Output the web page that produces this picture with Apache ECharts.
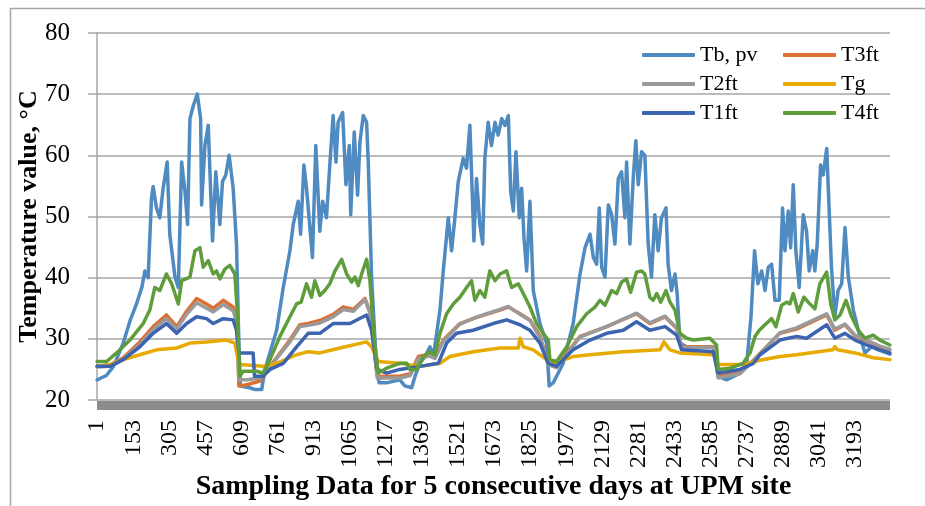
<!DOCTYPE html>
<html>
<head>
<meta charset="utf-8">
<script src="https://cdn.jsdelivr.net/npm/echarts@6/dist/echarts.min.js"></script>
<style>
  html, body { margin: 0; padding: 0; background: #fff; }
  #chart { width: 925px; height: 506px; }
</style>
</head>
<body>
<div id="chart"></div>
<script>
// sample count on the category axis (labels 1, 153, 305 ... every 152 samples)
const sampleCount = 3340;
const labelStep = 152;

// Tb, pv  (sample number -> value)
const tbX = [1, 40, 70, 111, 140, 165, 190, 202, 216, 230, 237, 251, 265, 279, 296, 307, 329, 343, 357, 371, 382, 392, 406, 423, 437, 441, 455, 469, 487, 501, 518, 529, 543, 557, 574, 588, 598, 604, 644, 666, 694, 708, 757, 785, 813, 827, 848, 858, 872, 883, 908, 922, 939, 951, 967, 981, 995, 1007, 1016, 1035, 1049, 1063, 1069, 1084, 1098, 1108, 1122, 1136, 1143, 1157, 1178, 1189, 1220, 1276, 1297, 1326, 1340, 1361, 1382, 1403, 1417, 1445, 1459, 1480, 1494, 1508, 1522, 1543, 1557, 1571, 1588, 1599, 1613, 1625, 1634, 1648, 1662, 1677, 1690, 1705, 1719, 1733, 1743, 1754, 1765, 1779, 1789, 1799, 1810, 1824, 1838, 1866, 1894, 1905, 1922, 1964, 2006, 2035, 2056, 2077, 2091, 2105, 2116, 2126, 2140, 2154, 2168, 2182, 2196, 2210, 2224, 2231, 2245, 2259, 2270, 2280, 2294, 2308, 2322, 2336, 2350, 2364, 2378, 2397, 2406, 2420, 2435, 2444, 2456, 2484, 2596, 2617, 2652, 2709, 2737, 2755, 2770, 2784, 2800, 2814, 2828, 2842, 2856, 2874, 2888, 2898, 2912, 2922, 2933, 2944, 2958, 2975, 2989, 3000, 3015, 3024, 3034, 3048, 3059, 3074, 3080, 3094, 3108, 3122, 3137, 3151, 3165, 3186, 3207, 3235, 3263, 3291, 3326, 3340];
const tbY = [23.3, 24.0, 25.5, 29.3, 33.0, 35.5, 38.5, 41.1, 40.0, 53.0, 54.9, 51.4, 49.8, 54.6, 58.9, 47.1, 40.1, 38.4, 58.9, 54.1, 48.7, 66.0, 68.1, 70.0, 66.0, 51.9, 61.6, 64.9, 46.0, 57.3, 48.7, 55.7, 56.8, 60.0, 54.6, 45.5, 29.3, 22.3, 22.0, 21.7, 21.7, 25.0, 31.4, 38.4, 44.4, 48.7, 52.5, 47.1, 58.4, 54.6, 43.3, 61.6, 47.6, 52.5, 49.8, 58.4, 66.5, 58.9, 65.4, 67.0, 55.2, 61.6, 50.3, 63.8, 53.5, 62.2, 66.5, 65.4, 58.9, 40.1, 25.0, 22.8, 22.8, 23.3, 22.3, 22.0, 23.9, 26.0, 27.1, 28.7, 27.1, 34.7, 41.1, 49.8, 44.4, 49.8, 55.7, 59.5, 57.9, 64.9, 46.0, 56.2, 48.7, 45.5, 59.5, 65.4, 61.6, 65.4, 63.3, 66.0, 64.9, 66.5, 54.1, 50.9, 60.6, 49.8, 54.6, 46.5, 41.1, 52.5, 37.9, 32.5, 29.3, 22.3, 22.8, 26.0, 32.5, 40.6, 44.9, 47.1, 43.3, 42.2, 51.4, 41.7, 40.1, 51.9, 50.3, 45.5, 56.2, 57.3, 49.8, 58.9, 45.5, 56.2, 62.4, 55.2, 60.6, 60.0, 45.5, 40.1, 50.3, 44.4, 49.8, 51.4, 42.2, 37.9, 40.6, 37.4, 29.3, 28.7, 28.7, 23.9, 23.3, 24.4, 26.0, 33.6, 44.4, 39.0, 41.1, 37.9, 41.7, 42.2, 36.3, 36.3, 51.4, 44.4, 50.9, 44.9, 55.2, 44.4, 38.4, 50.3, 47.6, 41.1, 44.4, 41.1, 45.5, 58.4, 56.8, 61.1, 55.2, 41.7, 33.6, 37.9, 39.0, 48.2, 40.1, 34.7, 31.4, 27.7, 28.7, 28.2, 27.7, 27.5];

// T3ft
const t3X = [1, 55, 111, 181, 237, 293, 336, 378, 420, 462, 490, 532, 574, 590, 598, 631, 687, 729, 813, 855, 890, 939, 995, 1038, 1080, 1129, 1150, 1181, 1276, 1320, 1354, 1400, 1424, 1459, 1529, 1600, 1698, 1733, 1782, 1824, 1866, 1901, 1936, 2035, 2147, 2273, 2329, 2393, 2442, 2463, 2596, 2617, 2709, 2765, 2877, 2947, 3074, 3108, 3151, 3193, 3298, 3340];
const t3Y = [25.5, 25.7, 26.9, 29.5, 32.0, 33.9, 32.0, 34.5, 36.6, 35.7, 35.0, 36.3, 35.2, 33.0, 22.3, 22.5, 23.1, 25.5, 29.8, 32.3, 32.5, 33.0, 34.0, 35.2, 34.8, 36.6, 34.5, 23.9, 23.9, 24.3, 27.1, 27.5, 27.0, 29.8, 32.5, 33.5, 34.7, 35.2, 34.1, 33.1, 30.5, 26.0, 25.5, 30.4, 32.0, 34.1, 32.5, 33.6, 31.7, 28.7, 28.7, 23.9, 24.5, 26.5, 30.9, 31.6, 33.9, 31.4, 32.3, 30.5, 28.7, 28.2];

// T2ft
const t2X = [1, 55, 111, 181, 237, 293, 336, 378, 420, 462, 490, 532, 574, 590, 598, 631, 687, 729, 813, 855, 890, 939, 995, 1038, 1080, 1129, 1150, 1181, 1276, 1320, 1354, 1400, 1424, 1459, 1529, 1600, 1698, 1733, 1782, 1824, 1866, 1901, 1936, 2035, 2147, 2273, 2329, 2393, 2442, 2463, 2596, 2617, 2709, 2765, 2877, 2947, 3074, 3108, 3151, 3193, 3298, 3340];
const t2Y = [25.4, 25.5, 26.7, 29.1, 31.5, 33.3, 31.6, 34.0, 35.9, 35.0, 34.4, 35.6, 34.6, 32.5, 23.3, 23.3, 23.6, 25.4, 29.5, 32.0, 32.2, 32.6, 33.6, 34.8, 34.5, 36.4, 34.2, 23.6, 23.6, 24.0, 26.8, 27.2, 26.8, 29.6, 32.4, 33.6, 34.8, 35.3, 34.0, 33.0, 30.2, 25.8, 25.3, 30.3, 32.0, 34.2, 32.6, 33.7, 31.8, 28.6, 28.6, 23.6, 24.3, 26.4, 31.0, 31.8, 34.1, 31.6, 32.4, 30.6, 28.8, 28.3];

// Tg
const tgX = [1, 55, 111, 181, 251, 336, 392, 462, 546, 581, 595, 604, 700, 757, 841, 890, 939, 1024, 1136, 1157, 1185, 1276, 1361, 1445, 1487, 1585, 1698, 1775, 1782, 1796, 1838, 1894, 1922, 2006, 2077, 2217, 2372, 2388, 2414, 2456, 2596, 2617, 2722, 2793, 2877, 2947, 3100, 3108, 3120, 3193, 3270, 3340];
const tgY = [25.5, 25.8, 26.6, 27.4, 28.2, 28.5, 29.3, 29.5, 29.8, 29.3, 26.6, 25.8, 25.5, 26.0, 27.4, 27.9, 27.7, 28.5, 29.5, 28.7, 26.3, 26.0, 25.5, 26.0, 27.1, 27.9, 28.5, 28.5, 30.1, 28.7, 28.2, 26.6, 26.0, 27.1, 27.4, 27.9, 28.2, 29.5, 28.2, 27.7, 27.4, 25.8, 25.8, 26.5, 27.1, 27.4, 28.2, 28.7, 28.2, 27.7, 26.9, 26.6];

// T1ft
const t1X = [1, 55, 111, 181, 237, 293, 336, 378, 420, 462, 490, 532, 574, 588, 598, 658, 664, 700, 729, 785, 841, 890, 911, 939, 995, 1066, 1136, 1157, 1181, 1220, 1276, 1361, 1438, 1473, 1515, 1585, 1669, 1726, 1782, 1824, 1866, 1901, 1936, 2006, 2077, 2147, 2217, 2273, 2329, 2393, 2442, 2463, 2596, 2617, 2709, 2765, 2793, 2877, 2947, 2989, 3074, 3108, 3151, 3193, 3242, 3298, 3340];
const t1Y = [25.5, 25.5, 26.6, 28.7, 30.9, 32.5, 30.9, 32.5, 33.6, 33.3, 32.5, 33.3, 33.1, 31.4, 27.7, 27.7, 23.9, 23.9, 25.0, 26.0, 28.7, 30.9, 30.9, 30.9, 32.5, 32.5, 33.9, 31.4, 25.0, 24.4, 25.0, 25.5, 26.0, 29.3, 30.9, 31.4, 32.5, 33.1, 32.3, 31.4, 29.3, 26.0, 25.5, 28.2, 29.8, 30.9, 31.4, 32.8, 31.4, 32.0, 30.6, 28.2, 27.9, 24.4, 25.0, 26.0, 27.4, 29.8, 30.4, 30.1, 32.3, 30.1, 30.9, 29.8, 29.0, 28.2, 27.7];

// T4ft
const t4X = [1, 41, 83, 139, 195, 223, 244, 265, 293, 315, 343, 357, 392, 413, 434, 448, 469, 490, 504, 518, 539, 560, 581, 591, 602, 616, 673, 700, 729, 771, 813, 841, 860, 883, 904, 918, 939, 960, 981, 1003, 1031, 1052, 1073, 1087, 1101, 1115, 1136, 1150, 1167, 1185, 1220, 1276, 1305, 1318, 1347, 1375, 1403, 1424, 1445, 1473, 1501, 1529, 1557, 1578, 1592, 1613, 1634, 1655, 1677, 1698, 1726, 1747, 1775, 1796, 1824, 1852, 1880, 1901, 1908, 1936, 1979, 2021, 2063, 2098, 2119, 2140, 2168, 2189, 2210, 2231, 2248, 2273, 2294, 2308, 2329, 2343, 2358, 2375, 2397, 2414, 2435, 2456, 2484, 2512, 2582, 2610, 2617, 2667, 2722, 2751, 2772, 2790, 2814, 2842, 2860, 2884, 2905, 2919, 2933, 2954, 2978, 2996, 3024, 3045, 3074, 3091, 3108, 3130, 3155, 3179, 3207, 3235, 3270, 3298, 3340];
const t4Y = [26.3, 26.3, 27.7, 29.8, 32.5, 34.7, 38.4, 37.9, 40.6, 39.0, 35.7, 39.5, 40.1, 44.4, 44.9, 41.7, 42.8, 40.6, 41.1, 39.8, 41.4, 42.0, 40.6, 34.7, 23.9, 24.7, 24.7, 24.4, 26.6, 30.4, 33.6, 35.7, 36.0, 39.0, 36.8, 39.5, 37.1, 37.9, 39.0, 41.1, 43.0, 40.6, 39.3, 40.1, 38.7, 40.6, 43.0, 39.5, 30.4, 24.4, 25.2, 26.0, 26.0, 25.0, 25.0, 27.1, 27.9, 27.4, 30.9, 34.1, 35.7, 36.8, 38.4, 39.5, 36.3, 37.9, 36.8, 41.1, 39.5, 40.6, 41.1, 38.4, 39.0, 37.4, 35.2, 32.5, 30.9, 29.8, 26.6, 26.3, 28.7, 32.0, 34.1, 35.2, 36.3, 35.5, 37.9, 37.4, 39.3, 39.8, 37.6, 40.9, 41.1, 40.6, 36.8, 36.3, 37.4, 36.0, 37.9, 36.0, 34.7, 30.9, 30.1, 29.8, 30.1, 29.0, 25.0, 25.2, 26.0, 27.7, 30.4, 31.4, 32.3, 33.3, 32.0, 35.5, 36.0, 35.7, 37.4, 34.4, 36.8, 36.0, 34.9, 39.0, 40.9, 35.7, 33.1, 33.9, 36.3, 33.6, 31.4, 30.1, 30.6, 29.8, 29.0];

const categories = [];
for (let i = 1; i <= sampleCount; i++) categories.push(String(i));

// category index = sample number - 1
function pairs(xs, ys) {
  return xs.map((s, i) => [s - 1, ys[i]]);
}

const font = 'Liberation Serif';
const gridGray = '#a6a6a6';

function line(name, color, xs, ys) {
  return {
    name: name,
    type: 'line',
    symbol: 'none',
    data: pairs(xs, ys),
    lineStyle: { color: color, width: 3.5, cap: 'round', join: 'round' },
    itemStyle: { color: color }
  };
}

const legendBase = {
  orient: 'vertical',
  top: 39,
  itemWidth: 53,
  itemHeight: 4,
  itemGap: 7,
  icon: 'roundRect',
  textStyle: { fontFamily: font, fontSize: 22, lineHeight: 22, color: '#000' }
};

const chart = echarts.init(document.getElementById('chart'));
chart.setOption({
  animation: false,
  backgroundColor: '#fff',
  grid: { left: 97, right: 35, top: 33, bottom: 102 },
  graphic: [
    { type: 'line', shape: { x1: 10.5, y1: 8, x2: 10.5, y2: 506 }, style: { stroke: gridGray, lineWidth: 1.5 } },
    { type: 'line', shape: { x1: 10, y1: 8.5, x2: 925, y2: 8.5 }, style: { stroke: gridGray, lineWidth: 1.5 } }
  ],
  legend: [
    Object.assign({}, legendBase, { left: 637, data: ['Tb, pv', 'T2ft', 'T1ft'] }),
    Object.assign({}, legendBase, { left: 778, data: ['T3ft', 'Tg', 'T4ft'] })
  ],
  xAxis: {
    type: 'category',
    data: categories,
    offset: 5,
    name: 'Sampling Data for 5 consecutive days at UPM site',
    nameLocation: 'middle',
    nameGap: 68,
    nameMoveOverlap: false,
    nameTextStyle: { fontFamily: font, fontSize: 28, fontWeight: 'bold', color: '#000' },
    axisLine: { lineStyle: { color: '#8c8c8c', width: 9, cap: 'butt' } },
    axisTick: { show: false },
    axisLabel: {
      interval: labelStep - 1,
      rotate: 90,
      margin: 15,
      fontFamily: font,
      fontSize: 24,
      color: '#000'
    },
    splitLine: { show: false }
  },
  yAxis: {
    type: 'value',
    min: 20,
    max: 80,
    interval: 10,
    name: 'Temperature value, °C',
    nameLocation: 'middle',
    nameGap: 55,
    nameRotate: 90,
    nameMoveOverlap: false,
    nameTextStyle: { fontFamily: font, fontSize: 26, fontWeight: 'bold', color: '#000' },
    axisLine: { show: true, lineStyle: { color: gridGray, width: 1.5 } },
    axisTick: { show: true, length: 9, lineStyle: { color: gridGray, width: 1.5 } },
    axisLabel: { margin: 27, fontFamily: font, fontSize: 25, color: '#000' },
    splitLine: { lineStyle: { color: gridGray, width: 1.5 } }
  },
  series: [
    line('Tb, pv', '#4f8bc0', tbX, tbY),
    line('T3ft', '#dc7032', t3X, t3Y),
    line('T2ft', '#9a9a9a', t2X, t2Y),
    line('Tg', '#e6aa00', tgX, tgY),
    line('T1ft', '#3c64b0', t1X, t1Y),
    line('T4ft', '#5f9c3c', t4X, t4Y)
  ]
});
</script>
</body>
</html>
